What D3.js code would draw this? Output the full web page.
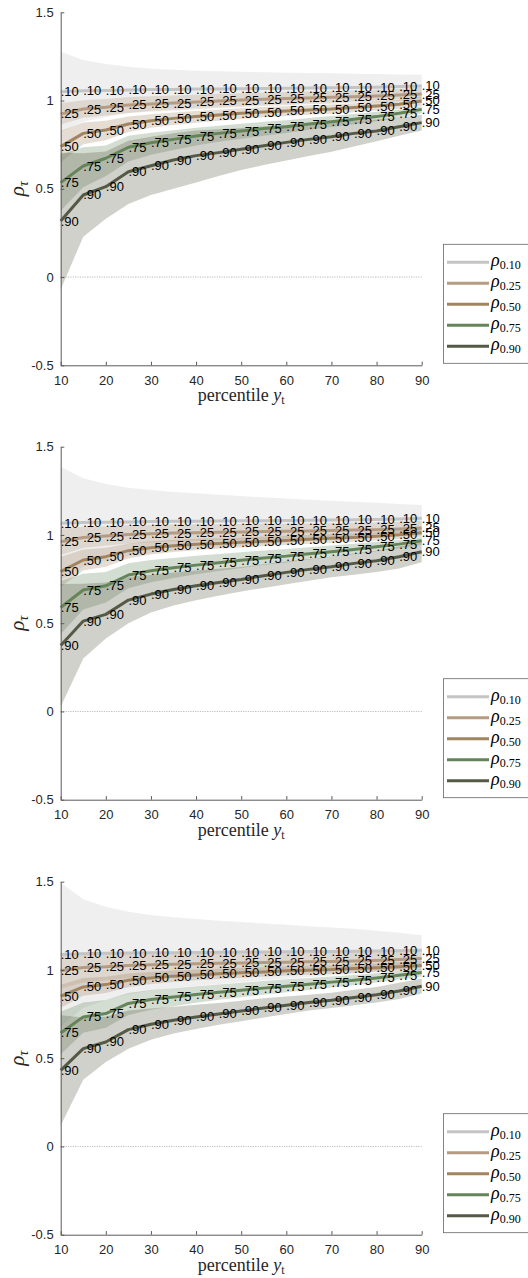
<!DOCTYPE html>
<html>
<head>
<meta charset="utf-8">
<script src="https://cdn.jsdelivr.net/npm/d3@7"></script>
<style>
  body { margin: 0; background: #fff; }
  svg { display: block; }
</style>
</head>
<body>
<div id="chart"></div>
<script>
var percentiles = [10, 15, 20, 25, 30, 35, 40, 45, 50, 55, 60, 65, 70, 75, 80, 85, 90];
var xTickValues = [10, 20, 30, 40, 50, 60, 70, 80, 90];
var yTickValues = [-0.5, 0, 0.5, 1, 1.5];
var curveLabels = ['.10', '.25', '.50', '.75', '.90'];
var legendSubs = ['0.10', '0.25', '0.50', '0.75', '0.90'];

// panel 1
var p1_10    = [1.050,1.055,1.057,1.060,1.062,1.063,1.065,1.066,1.067,1.068,1.070,1.071,1.072,1.074,1.076,1.079,1.083];
var p1_10_lo = [0.823,0.880,0.907,0.928,0.944,0.952,0.961,0.966,0.971,0.976,0.982,0.986,0.990,0.996,1.002,1.010,1.020];
var p1_10_hi = [1.277,1.230,1.207,1.192,1.180,1.174,1.169,1.166,1.163,1.160,1.158,1.156,1.154,1.152,1.150,1.148,1.146];
var p1_25    = [0.924,0.952,0.962,0.975,0.981,0.986,0.992,0.998,1.003,1.007,1.011,1.015,1.018,1.022,1.026,1.032,1.037];
var p1_25_lo = [0.864,0.902,0.915,0.930,0.938,0.944,0.951,0.958,0.964,0.969,0.974,0.979,0.982,0.987,0.991,0.997,1.002];
var p1_25_hi = [0.984,1.002,1.009,1.020,1.024,1.028,1.033,1.038,1.042,1.045,1.048,1.051,1.054,1.057,1.061,1.067,1.072];
var p1_50    = [0.739,0.814,0.833,0.867,0.886,0.899,0.909,0.918,0.928,0.935,0.941,0.947,0.952,0.960,0.969,0.979,0.998];
var p1_50_lo = [0.649,0.752,0.775,0.822,0.846,0.862,0.874,0.885,0.896,0.905,0.912,0.919,0.925,0.934,0.943,0.953,0.970];
var p1_50_hi = [0.829,0.876,0.885,0.909,0.923,0.933,0.941,0.948,0.957,0.963,0.968,0.973,0.978,0.985,0.994,1.004,1.024];
var p1_75    = [0.535,0.629,0.673,0.735,0.761,0.780,0.799,0.814,0.827,0.841,0.852,0.867,0.880,0.894,0.909,0.928,0.950];
var p1_75_lo = [0.375,0.509,0.573,0.655,0.693,0.720,0.745,0.766,0.783,0.801,0.816,0.834,0.850,0.866,0.883,0.904,0.928];
var p1_75_hi = [0.695,0.735,0.745,0.800,0.818,0.832,0.846,0.857,0.868,0.880,0.889,0.901,0.912,0.924,0.936,0.950,0.967];
var p1_90    = [0.317,0.465,0.512,0.597,0.631,0.663,0.688,0.705,0.724,0.744,0.763,0.780,0.795,0.814,0.828,0.852,0.875];
var p1_90_lo = [-0.070,0.229,0.330,0.414,0.465,0.500,0.535,0.572,0.606,0.635,0.660,0.686,0.710,0.740,0.770,0.800,0.830];
var p1_90_hi = [0.704,0.701,0.712,0.772,0.795,0.815,0.830,0.838,0.845,0.853,0.862,0.870,0.878,0.886,0.893,0.904,0.920];

// panel 2
var p2_10    = [1.066,1.070,1.072,1.074,1.076,1.077,1.078,1.079,1.080,1.081,1.082,1.083,1.084,1.086,1.088,1.091,1.094];
var p2_10_lo = [0.745,0.819,0.855,0.880,0.898,0.911,0.920,0.930,0.940,0.949,0.958,0.966,0.974,0.984,0.994,1.006,1.018];
var p2_10_hi = [1.387,1.321,1.289,1.268,1.254,1.243,1.236,1.228,1.220,1.213,1.206,1.200,1.194,1.188,1.182,1.176,1.170];
var p2_25    = [0.962,0.986,0.994,1.003,1.007,1.011,1.013,1.015,1.017,1.019,1.021,1.023,1.025,1.028,1.030,1.034,1.040];
var p2_25_lo = [0.887,0.926,0.939,0.951,0.957,0.963,0.966,0.969,0.972,0.975,0.978,0.981,0.983,0.987,0.989,0.993,0.999];
var p2_25_hi = [1.037,1.046,1.049,1.055,1.057,1.059,1.060,1.061,1.062,1.063,1.064,1.065,1.067,1.069,1.071,1.075,1.081];
var p2_50    = [0.792,0.858,0.877,0.911,0.928,0.939,0.947,0.952,0.958,0.964,0.969,0.975,0.981,0.986,0.992,1.001,1.013];
var p2_50_lo = [0.707,0.798,0.820,0.866,0.889,0.904,0.914,0.922,0.929,0.936,0.943,0.950,0.956,0.962,0.968,0.977,0.988];
var p2_50_hi = [0.877,0.918,0.927,0.952,0.964,0.972,0.978,0.981,0.986,0.991,0.995,1.000,1.006,1.010,1.016,1.025,1.038];
var p2_75    = [0.589,0.688,0.712,0.773,0.797,0.814,0.829,0.843,0.856,0.869,0.880,0.894,0.905,0.918,0.933,0.948,0.967];
var p2_75_lo = [0.439,0.578,0.617,0.698,0.732,0.756,0.777,0.796,0.813,0.830,0.844,0.861,0.875,0.890,0.907,0.924,0.945];
var p2_75_hi = [0.739,0.780,0.790,0.840,0.858,0.870,0.882,0.892,0.902,0.912,0.921,0.931,0.940,0.950,0.961,0.972,0.985];
var p2_90    = [0.374,0.512,0.550,0.631,0.665,0.691,0.712,0.731,0.748,0.769,0.788,0.805,0.820,0.839,0.854,0.877,0.905];
var p2_90_lo = [0.026,0.300,0.414,0.500,0.560,0.600,0.630,0.655,0.680,0.700,0.720,0.740,0.760,0.775,0.790,0.810,0.845];
var p2_90_hi = [0.722,0.724,0.730,0.762,0.775,0.787,0.798,0.808,0.818,0.834,0.850,0.864,0.876,0.895,0.910,0.935,0.960];

// panel 3
var p3_10    = [1.088,1.092,1.094,1.096,1.097,1.098,1.099,1.100,1.101,1.102,1.103,1.104,1.105,1.106,1.107,1.109,1.112];
var p3_10_lo = [0.682,0.784,0.830,0.862,0.883,0.898,0.910,0.921,0.931,0.941,0.950,0.960,0.969,0.979,0.992,1.007,1.027];
var p3_10_hi = [1.494,1.400,1.358,1.330,1.311,1.298,1.288,1.279,1.271,1.263,1.256,1.248,1.241,1.233,1.222,1.211,1.197];
var p3_25    = [0.995,1.014,1.018,1.025,1.029,1.032,1.035,1.038,1.040,1.042,1.044,1.046,1.048,1.051,1.054,1.059,1.065];
var p3_25_lo = [0.895,0.929,0.940,0.953,0.961,0.967,0.972,0.977,0.980,0.983,0.986,0.989,0.992,0.996,0.999,1.004,1.010];
var p3_25_hi = [1.095,1.099,1.096,1.097,1.097,1.097,1.098,1.099,1.100,1.101,1.102,1.103,1.104,1.106,1.109,1.114,1.120];
var p3_50    = [0.851,0.904,0.917,0.942,0.955,0.965,0.972,0.978,0.984,0.989,0.995,0.999,1.002,1.008,1.012,1.018,1.025];
var p3_50_lo = [0.786,0.854,0.870,0.902,0.920,0.932,0.941,0.949,0.956,0.962,0.969,0.973,0.977,0.983,0.987,0.993,0.999];
var p3_50_hi = [0.916,0.954,0.962,0.980,0.989,0.997,1.002,1.007,1.012,1.016,1.021,1.025,1.027,1.033,1.037,1.043,1.051];
var p3_75    = [0.643,0.734,0.753,0.810,0.832,0.847,0.861,0.874,0.885,0.897,0.908,0.919,0.931,0.942,0.955,0.970,0.985];
var p3_75_lo = [0.523,0.644,0.673,0.745,0.774,0.795,0.814,0.831,0.845,0.860,0.874,0.887,0.901,0.914,0.929,0.946,0.963];
var p3_75_hi = [0.763,0.815,0.830,0.870,0.886,0.897,0.908,0.918,0.928,0.938,0.947,0.955,0.963,0.972,0.981,0.992,1.004];
var p3_90    = [0.431,0.554,0.592,0.662,0.692,0.715,0.734,0.751,0.768,0.785,0.800,0.815,0.828,0.844,0.859,0.881,0.908];
var p3_90_lo = [0.119,0.378,0.479,0.554,0.605,0.640,0.665,0.690,0.710,0.730,0.750,0.770,0.785,0.800,0.815,0.835,0.866];
var p3_90_hi = [0.743,0.730,0.735,0.770,0.782,0.792,0.803,0.813,0.826,0.840,0.850,0.860,0.871,0.888,0.903,0.927,0.950];

var lineColors = ['#c4c4c4', '#b49b82', '#a08560', '#66845a', '#555a46'];
var bandOpacity = 0.28;

var panels = [
  { top: 12.3,  mid: [p1_10, p1_25, p1_50, p1_75, p1_90], lo: [p1_10_lo, p1_25_lo, p1_50_lo, p1_75_lo, p1_90_lo], hi: [p1_10_hi, p1_25_hi, p1_50_hi, p1_75_hi, p1_90_hi] },
  { top: 446.7, mid: [p2_10, p2_25, p2_50, p2_75, p2_90], lo: [p2_10_lo, p2_25_lo, p2_50_lo, p2_75_lo, p2_90_lo], hi: [p2_10_hi, p2_25_hi, p2_50_hi, p2_75_hi, p2_90_hi] },
  { top: 881.7, mid: [p3_10, p3_25, p3_50, p3_75, p3_90], lo: [p3_10_lo, p3_25_lo, p3_50_lo, p3_75_lo, p3_90_lo], hi: [p3_10_hi, p3_25_hi, p3_50_hi, p3_75_hi, p3_90_hi] }
];

var width = 528, height = 1278,
    left = 60.7, right = 421.7, plotH = 353;

var svg = d3.select('#chart').append('svg')
    .attr('width', width)
    .attr('height', height);

var x = d3.scaleLinear().domain([10, 90]).range([left, right]);

function drawPanel(panel) {
    var y = d3.scaleLinear().domain([-0.5, 1.5]).range([panel.top + plotH, panel.top]);
    var g = svg.append('g');

    // dotted zero line
    g.append('line')
        .attr('x1', x(10)).attr('x2', x(90))
        .attr('y1', y(0)).attr('y2', y(0))
        .attr('stroke', '#a8a8a8')
        .attr('stroke-width', 0.8)
        .attr('stroke-dasharray', '1.2,1.2');

    // bands
    panel.mid.forEach(function(m, k) {
        var area = d3.area()
            .x(function(d, i) { return x(percentiles[i]); })
            .y0(function(d, i) { return y(panel.lo[k][i]); })
            .y1(function(d, i) { return y(panel.hi[k][i]); });
        g.append('path')
            .datum(m)
            .attr('d', area)
            .attr('fill', lineColors[k])
            .attr('fill-opacity', bandOpacity);
    });

    // lines
    var line = d3.line()
        .x(function(d, i) { return x(percentiles[i]); })
        .y(function(d) { return y(d); });
    panel.mid.forEach(function(m, k) {
        g.append('path')
            .datum(m)
            .attr('d', line)
            .attr('fill', 'none')
            .attr('stroke', lineColors[k])
            .attr('stroke-width', 3)
            .attr('stroke-linejoin', 'round');
    });

    // quantile labels at each point
    panel.mid.forEach(function(m, k) {
        g.append('g').selectAll('text')
            .data(m)
            .enter()
            .append('text')
            .attr('x', function(d, i) { return x(percentiles[i]); })
            .attr('y', function(d) { return y(d); })
            .attr('dominant-baseline', 'central')
            .attr('font-family', '"Liberation Sans", Arial, sans-serif')
            .attr('font-size', 13)
            .attr('fill', '#000')
            .text(curveLabels[k]);
    });

    // axes
    var bottom = panel.top + plotH;
    var xAxis = g.append('g')
        .attr('transform', 'translate(0,' + bottom + ')')
        .call(d3.axisBottom(x).tickValues(xTickValues).tickSize(-3.6).tickPadding(10).tickSizeOuter(0));
    var yAxis = g.append('g')
        .attr('transform', 'translate(' + left + ',0)')
        .call(d3.axisLeft(y).tickValues(yTickValues).tickSize(-3.6).tickPadding(7).tickSizeOuter(0)
            .tickFormat(function(d) { return d === 0 ? '0' : String(d); }));
    [xAxis, yAxis].forEach(function(a) {
        a.select('.domain').attr('stroke', '#5a5a5a');
        a.selectAll('.tick line').attr('stroke', '#5a5a5a');
        a.selectAll('text')
            .attr('font-family', '"Liberation Sans", Arial, sans-serif')
            .attr('font-size', 13)
            .attr('fill', '#262626');
    });

    // axis titles
    var xl = g.append('text')
        .attr('x', (left + right) / 2)
        .attr('y', bottom + 36)
        .attr('text-anchor', 'middle')
        .attr('font-family', '"Liberation Serif", "Times New Roman", serif')
        .attr('font-size', 18)
        .attr('fill', '#262626');
    xl.append('tspan').text('percentile ');
    xl.append('tspan').attr('font-style', 'italic').text('y');
    xl.append('tspan').attr('font-size', 12).attr('dy', 3).text('t');

    var yl = g.append('text')
        .attr('transform', 'translate(24,' + y(0.5) + ') rotate(-90)')
        .attr('text-anchor', 'middle')
        .attr('font-family', '"Liberation Serif", "Times New Roman", serif')
        .attr('font-size', 21)
        .attr('fill', '#262626');
    yl.append('tspan').attr('font-style', 'italic').text('ρ');
    yl.append('tspan').attr('font-style', 'italic').attr('font-size', 14).attr('dy', 4).text('τ');

    // legend
    var lgTop = bottom - 121;
    var legend = g.append('g');
    legend.append('rect')
        .attr('x', 443.5).attr('y', lgTop)
        .attr('width', 100).attr('height', 119)
        .attr('fill', '#fff')
        .attr('stroke', '#666')
        .attr('stroke-width', 0.8);
    var rows = legend.selectAll('g.row')
        .data(legendSubs)
        .enter()
        .append('g')
        .attr('class', 'row')
        .attr('transform', function(d, i) { return 'translate(0,' + (lgTop + 18 + i * 21) + ')'; });
    rows.append('line')
        .attr('x1', 447).attr('x2', 489)
        .attr('stroke', function(d, i) { return lineColors[i]; })
        .attr('stroke-width', 3);
    var lt = rows.append('text')
        .attr('x', 491)
        .attr('y', 4)
        .attr('font-family', '"Liberation Serif", "Times New Roman", serif')
        .attr('font-size', 18)
        .attr('fill', '#000');
    lt.append('tspan').attr('font-style', 'italic').text('ρ');
    lt.append('tspan').attr('font-size', 12).attr('dy', 3).text(function(d) { return d; });
}

panels.forEach(drawPanel);
</script>
</body>
</html>
